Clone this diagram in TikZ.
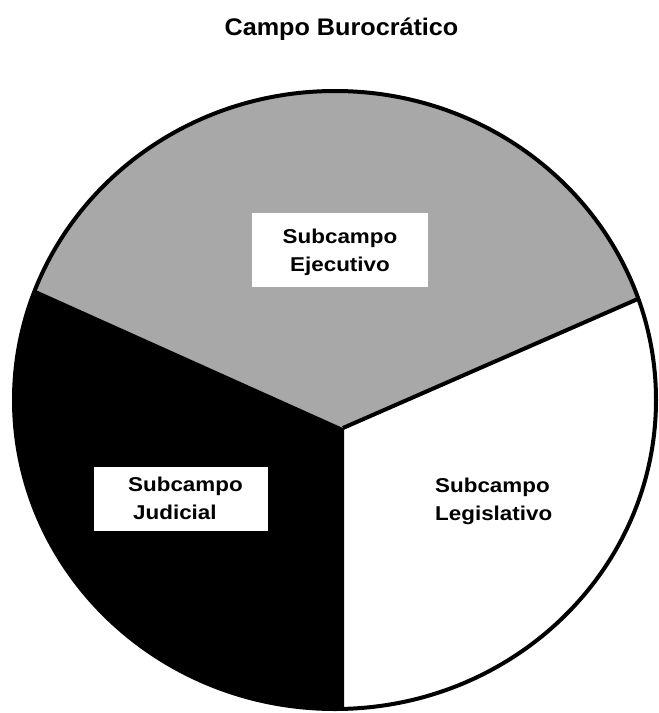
\documentclass[tikz,border=0pt]{standalone}
\usepackage{fontspec}
\setmainfont{Liberation Sans}
\newfontfamily\labfont[FakeStretch=1.12]{Liberation Sans}
\newfontfamily\ttlfont[FakeStretch=1.05]{Liberation Sans}
\definecolor{sectgray}{RGB}{168,168,168}
\begin{document}
\begin{tikzpicture}[x=1pt,y=-1pt,
  lab/.style={font=\labfont\bfseries\fontsize{20}{28}\selectfont, inner sep=0pt},
  whitebox/.style={fill=white, draw=none, inner sep=0pt},
  divider/.style={line width=4pt},
  rim/.style={line width=4pt}]
\useasboundingbox (0,0) rectangle (659,713);
\coordinate (ctr) at (335,400);
\coordinate (hub) at (343,428);
\coordinate (lefte) at (-60,247);
\coordinate (righte) at (720,263);
% sectors
\begin{scope}
  \clip (ctr) ellipse [x radius=321pt, y radius=309pt];
  \fill[white] (-60,0) rectangle (720,760);
  \fill[sectgray] (hub) -- (lefte) -- (-60,0) -- (720,0) -- (righte) -- cycle;
  \fill[black] (hub) -- (lefte) -- (-60,760) -- (344,760) -- (344,428) -- cycle;
  \draw[divider] (hub) -- (righte);
\end{scope}
\draw[rim] (ctr) ellipse [x radius=321pt, y radius=309pt];
% title
\node[font=\ttlfont\bfseries\fontsize{24}{28}\selectfont, anchor=base, inner sep=0pt] (title) at (341.5,35) {Campo Burocrático};
% boxes
\node[whitebox, minimum width=176pt, minimum height=74pt] (ejbox) at (340,250) {};
\node[whitebox, minimum width=174pt, minimum height=64pt] (jubox) at (181,499) {};
% labels
\node[lab, align=center, anchor=north] (ej) at (340,228.4) {Subcampo\\Ejecutivo};
\node[lab, align=left, anchor=north west] (ju) at (128,477) {Subcampo\\\hspace*{5pt}Judicial};
\node[lab, align=left, anchor=north west] (le) at (435,477.5) {Subcampo\\Legislativo};
\end{tikzpicture}
\end{document}
